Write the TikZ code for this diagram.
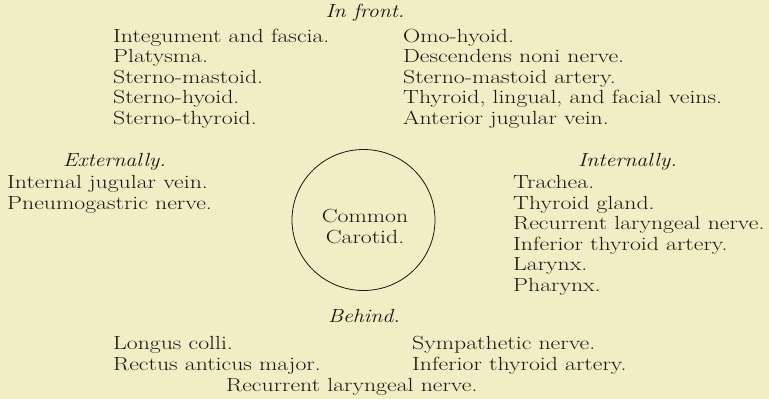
\documentclass[tikz,border=0pt]{standalone}
\usetikzlibrary{shapes.geometric}
\definecolor{paper}{RGB}{241,237,197}
\definecolor{ink}{RGB}{24,22,18}
\newcommand\sx[1]{\scalebox{1.25}[1]{#1}}
\newcommand\sxi[1]{\scalebox{1.15}[1]{#1}}
\begin{document}
\begin{tikzpicture}[x=1pt,y=-1pt,
  txt/.style={inner sep=0pt,anchor=base west,text=ink,font=\fontsize{19}{21}\selectfont},
  hd/.style={inner sep=0pt,anchor=base west,text=ink,font=\fontsize{19}{21}\selectfont\itshape},
  hdc/.style={inner sep=0pt,anchor=base,text=ink,font=\fontsize{19}{21}\selectfont\itshape},
  ctr/.style={inner sep=0pt,anchor=base,text=ink,font=\fontsize{19}{21}\selectfont}]
\fill[paper] (0,0) rectangle (769,399);
\useasboundingbox (0,0) rectangle (769,399);
% In front
\node[hdc] (front) at (365,17) {\sxi{In front.}};
\node[txt] (f1) at (113,42) {\sx{Integument and fascia.}};
\node[txt] (f2) at (113,62.5) {\sx{Platysma.}};
\node[txt] (f3) at (113,83) {\sx{Sterno-mastoid.}};
\node[txt] (f4) at (113,103.5) {\sx{Sterno-hyoid.}};
\node[txt] (f5) at (113,124) {\sx{Sterno-thyroid.}};
\node[txt] (g1) at (403,42) {\sx{Omo-hyoid.}};
\node[txt] (g2) at (403,62.5) {\sx{Descendens noni nerve.}};
\node[txt] (g3) at (403,83) {\sx{Sterno-mastoid artery.}};
\node[txt] (g4) at (403,103.5) {\sx{Thyroid, lingual, and facial veins.}};
\node[txt] (g5) at (403,124) {\sx{Anterior jugular vein.}};
% Externally
\node[hd] (ext) at (63,166) {\sxi{Externally.}};
\node[txt] (e1) at (7,188) {\sx{Internal jugular vein.}};
\node[txt] (e2) at (7,209) {\sx{Pneumogastric nerve.}};
% Carotid
\node[draw=ink,line width=0.8pt,ellipse,minimum width=143pt,minimum height=141pt,inner sep=0pt] (cc) at (363.5,220) {};
\node[ctr] (c1) at (365,222) {\sx{Common}};
\node[ctr] (c2) at (365,243) {\sx{Carotid.}};
% Internally
\node[hd] (int) at (578,166) {\sxi{Internally.}};
\node[txt] (i1) at (513,188.5) {\sx{Trachea.}};
\node[txt] (i2) at (513,209) {\sx{Thyroid gland.}};
\node[txt] (i3) at (513,229.5) {\sx{Recurrent laryngeal nerve.}};
\node[txt] (i4) at (513,250) {\sx{Inferior thyroid artery.}};
\node[txt] (i5) at (513,270.5) {\sx{Larynx.}};
\node[txt] (i6) at (513,291) {\sx{Pharynx.}};
% Behind
\node[hdc] (beh) at (364,322) {\sxi{Behind.}};
\node[txt] (b1) at (113,349.5) {\sx{Longus colli.}};
\node[txt] (b2) at (113,370) {\sx{Rectus anticus major.}};
\node[txt] (b3) at (412,349.5) {\sx{Sympathetic nerve.}};
\node[txt] (b4) at (412,370) {\sx{Inferior thyroid artery.}};
\node[txt] (b5) at (226,391) {\sx{Recurrent laryngeal nerve.}};
\end{tikzpicture}
\end{document}
